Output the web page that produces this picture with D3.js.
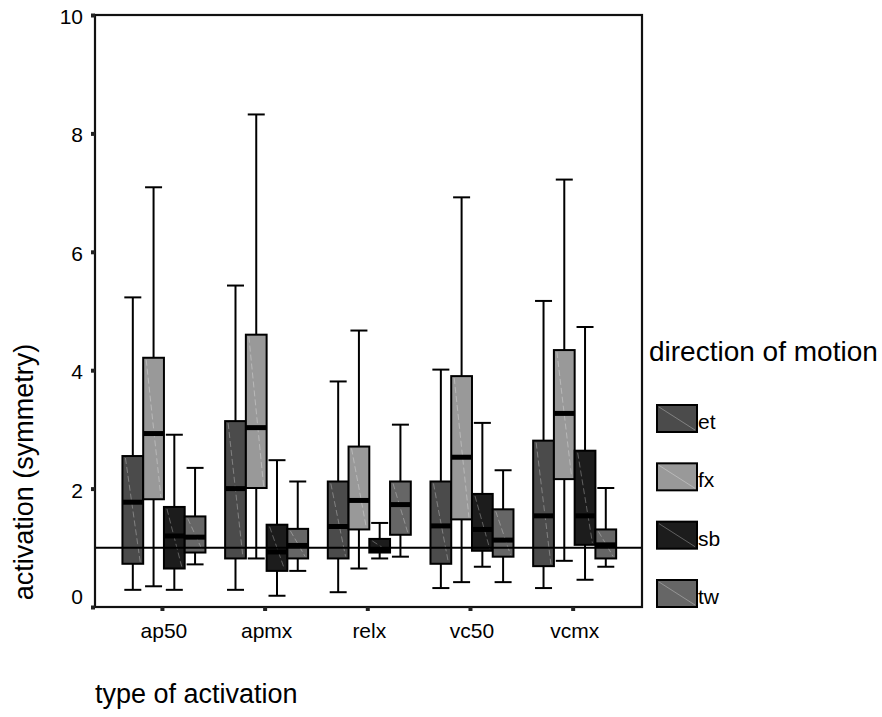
<!DOCTYPE html>
<html>
<head>
<meta charset="utf-8">
<script src="https://cdn.jsdelivr.net/npm/d3@7"></script>
<style>
  body { margin: 0; background: #fff; }
  svg text { font-family: "Liberation Sans", Arial, sans-serif; fill: #000; }
</style>
</head>
<body>
<div id="chart"></div>
<script>
var svgWidth = 882;
var svgHeight = 717;

// type of activation (x categories)
var categories = ["ap50", "apmx", "relx", "vc50", "vcmx"];
// direction of motion (legend)
var directions = ["et", "fx", "sb", "tw"];
var yTicks = [0, 2, 4, 6, 8, 10];
var referenceValue = 1;

// box stats per category: [low whisker, q1, median, q3, high whisker]
var etStats = [
  [0.29, 0.73, 1.77, 2.55, 5.23],
  [0.29, 0.82, 2.00, 3.14, 5.43],
  [0.25, 0.82, 1.36, 2.12, 3.81],
  [0.32, 0.73, 1.37, 2.12, 4.01],
  [0.32, 0.69, 1.54, 2.81, 5.17]
];
var fxStats = [
  [0.35, 1.82, 2.93, 4.21, 7.09],
  [0.82, 2.01, 3.03, 4.60, 8.32],
  [0.65, 1.31, 1.80, 2.71, 4.67],
  [0.42, 1.48, 2.53, 3.90, 6.92],
  [0.78, 2.16, 3.27, 4.34, 7.22]
];
var sbStats = [
  [0.29, 0.65, 1.20, 1.69, 2.91],
  [0.19, 0.61, 0.93, 1.39, 2.48],
  [0.82, 0.92, 0.97, 1.15, 1.42],
  [0.68, 0.95, 1.31, 1.91, 3.11],
  [0.46, 1.05, 1.54, 2.64, 4.73]
];
var twStats = [
  [0.72, 0.92, 1.18, 1.53, 2.35],
  [0.61, 0.82, 1.04, 1.32, 2.12],
  [0.85, 1.22, 1.73, 2.12, 3.08],
  [0.42, 0.85, 1.13, 1.65, 2.31],
  [0.68, 0.82, 1.05, 1.31, 2.01]
];

var statsByDir = { et: etStats, fx: fxStats, sb: sbStats, tw: twStats };

var frame = { left: 95, right: 642, top: 15, bottom: 607 };

var svg = d3.select("#chart")
  .append("svg")
  .attr("width", svgWidth)
  .attr("height", svgHeight);

// scales
var xScale = d3.scaleBand()
  .domain(categories)
  .range([112.6, 626]);

var xSub = d3.scaleBand()
  .domain(directions)
  .range([0, 83]);

var yScale = d3.scaleLinear()
  .domain([0, 10])
  .range([frame.bottom, frame.top]);

var color = d3.scaleOrdinal()
  .domain(directions)
  .range(["#4b4b4b", "#999999", "#1c1c1c", "#666666"]);

// flatten into rows
var rows = [];
directions.forEach(function(dir) {
  statsByDir[dir].forEach(function(s, i) {
    rows.push({ cat: categories[i], dir: dir, lo: s[0], q1: s[1], med: s[2], q3: s[3], hi: s[4] });
  });
});

var groupOffset = (xScale.bandwidth() - 83) / 2;
function boxX(d) { return xScale(d.cat) + groupOffset + xSub(d.dir); }
function boxMid(d) { return boxX(d) + xSub.bandwidth() / 2; }
var capHalf = 8.5;
var lw = 2;

var boxes = svg.append("g").attr("class", "boxes");

var g = boxes.selectAll("g")
  .data(rows)
  .enter()
  .append("g");

// whiskers
g.append("line")
  .attr("x1", boxMid).attr("x2", boxMid)
  .attr("y1", d => yScale(d.hi)).attr("y2", d => yScale(d.lo))
  .attr("stroke", "#000").attr("stroke-width", lw);

g.append("line")
  .attr("x1", d => boxMid(d) - capHalf).attr("x2", d => boxMid(d) + capHalf)
  .attr("y1", d => yScale(d.hi)).attr("y2", d => yScale(d.hi))
  .attr("stroke", "#000").attr("stroke-width", lw);

g.append("line")
  .attr("x1", d => boxMid(d) - capHalf).attr("x2", d => boxMid(d) + capHalf)
  .attr("y1", d => yScale(d.lo)).attr("y2", d => yScale(d.lo))
  .attr("stroke", "#000").attr("stroke-width", lw);

// box
g.append("rect")
  .attr("x", boxX)
  .attr("y", d => yScale(d.q3))
  .attr("width", xSub.bandwidth())
  .attr("height", d => yScale(d.q1) - yScale(d.q3))
  .attr("fill", d => color(d.dir))
  .attr("stroke", "#000")
  .attr("stroke-width", lw);

// faint diagonal highlight
g.append("line")
  .attr("x1", d => boxX(d) + 3).attr("x2", d => boxX(d) + xSub.bandwidth() - 3)
  .attr("y1", d => yScale(d.q3) + 2).attr("y2", d => yScale(d.q1) - 2)
  .attr("stroke", "#fff").attr("stroke-opacity", 0.3).attr("stroke-width", 1)
  .attr("stroke-dasharray", "6,3");

// median
g.append("line")
  .attr("x1", boxX).attr("x2", d => boxX(d) + xSub.bandwidth())
  .attr("y1", d => yScale(d.med)).attr("y2", d => yScale(d.med))
  .attr("stroke", "#000").attr("stroke-width", 5);

// reference line at 1
svg.append("line")
  .attr("x1", frame.left).attr("x2", frame.right)
  .attr("y1", yScale(referenceValue)).attr("y2", yScale(referenceValue))
  .attr("stroke", "#000").attr("stroke-width", lw);

// frame
svg.append("rect")
  .attr("x", frame.left).attr("y", frame.top)
  .attr("width", frame.right - frame.left)
  .attr("height", frame.bottom - frame.top)
  .attr("fill", "none")
  .attr("stroke", "#111")
  .attr("stroke-width", 2.2);

// axes
var yAxis = d3.axisLeft(yScale).tickValues(yTicks).tickSize(4).tickPadding(8);
var yG = svg.append("g")
  .attr("transform", `translate(${frame.left}, 0)`)
  .call(yAxis);
yG.select(".domain").remove();
yG.selectAll(".tick line").attr("stroke", "#222").attr("stroke-width", 4);
yG.selectAll(".tick text")
  .attr("font-size", 21)
  .attr("font-family", "Liberation Sans, Arial, sans-serif")
  .attr("dy", d => d === 0 ? "-0.15em" : "0.4em");

var xAxis = d3.axisBottom(xScale).tickSize(4).tickPadding(12);
var xG = svg.append("g")
  .attr("transform", `translate(0, ${frame.bottom})`)
  .call(xAxis);
xG.select(".domain").remove();
xG.selectAll(".tick line")
  .attr("transform", "translate(-1.5,0)")
  .attr("stroke", "#222").attr("stroke-width", 4);
xG.selectAll(".tick text")
  .attr("font-size", 21)
  .attr("font-family", "Liberation Sans, Arial, sans-serif");

// axis titles
svg.append("text")
  .attr("x", 95)
  .attr("y", 703)
  .attr("font-size", 27)
  .text("type of activation");

svg.append("text")
  .attr("transform", "translate(33, 472) rotate(-90)")
  .attr("text-anchor", "middle")
  .attr("font-size", 27)
  .text("activation (symmetry)");

// legend
var legend = svg.append("g").attr("class", "legend");
legend.append("text")
  .attr("x", 649)
  .attr("y", 361)
  .attr("font-size", 28)
  .text("direction of motion");

var legendY = d3.scalePoint()
  .domain(directions)
  .range([405, 580]);

var item = legend.selectAll("g.item")
  .data(directions)
  .enter()
  .append("g")
  .attr("class", "item")
  .attr("transform", d => `translate(657, ${legendY(d)})`);

item.append("rect")
  .attr("width", 40).attr("height", 27)
  .attr("fill", d => color(d))
  .attr("stroke", "#000").attr("stroke-width", lw);

item.append("line")
  .attr("x1", 2).attr("y1", 2).attr("x2", 38).attr("y2", 25)
  .attr("stroke", "#fff").attr("stroke-opacity", 0.3).attr("stroke-width", 1);

item.append("text")
  .attr("x", 41)
  .attr("y", 24)
  .attr("font-size", 21)
  .text(d => d);
</script>
</body>
</html>
